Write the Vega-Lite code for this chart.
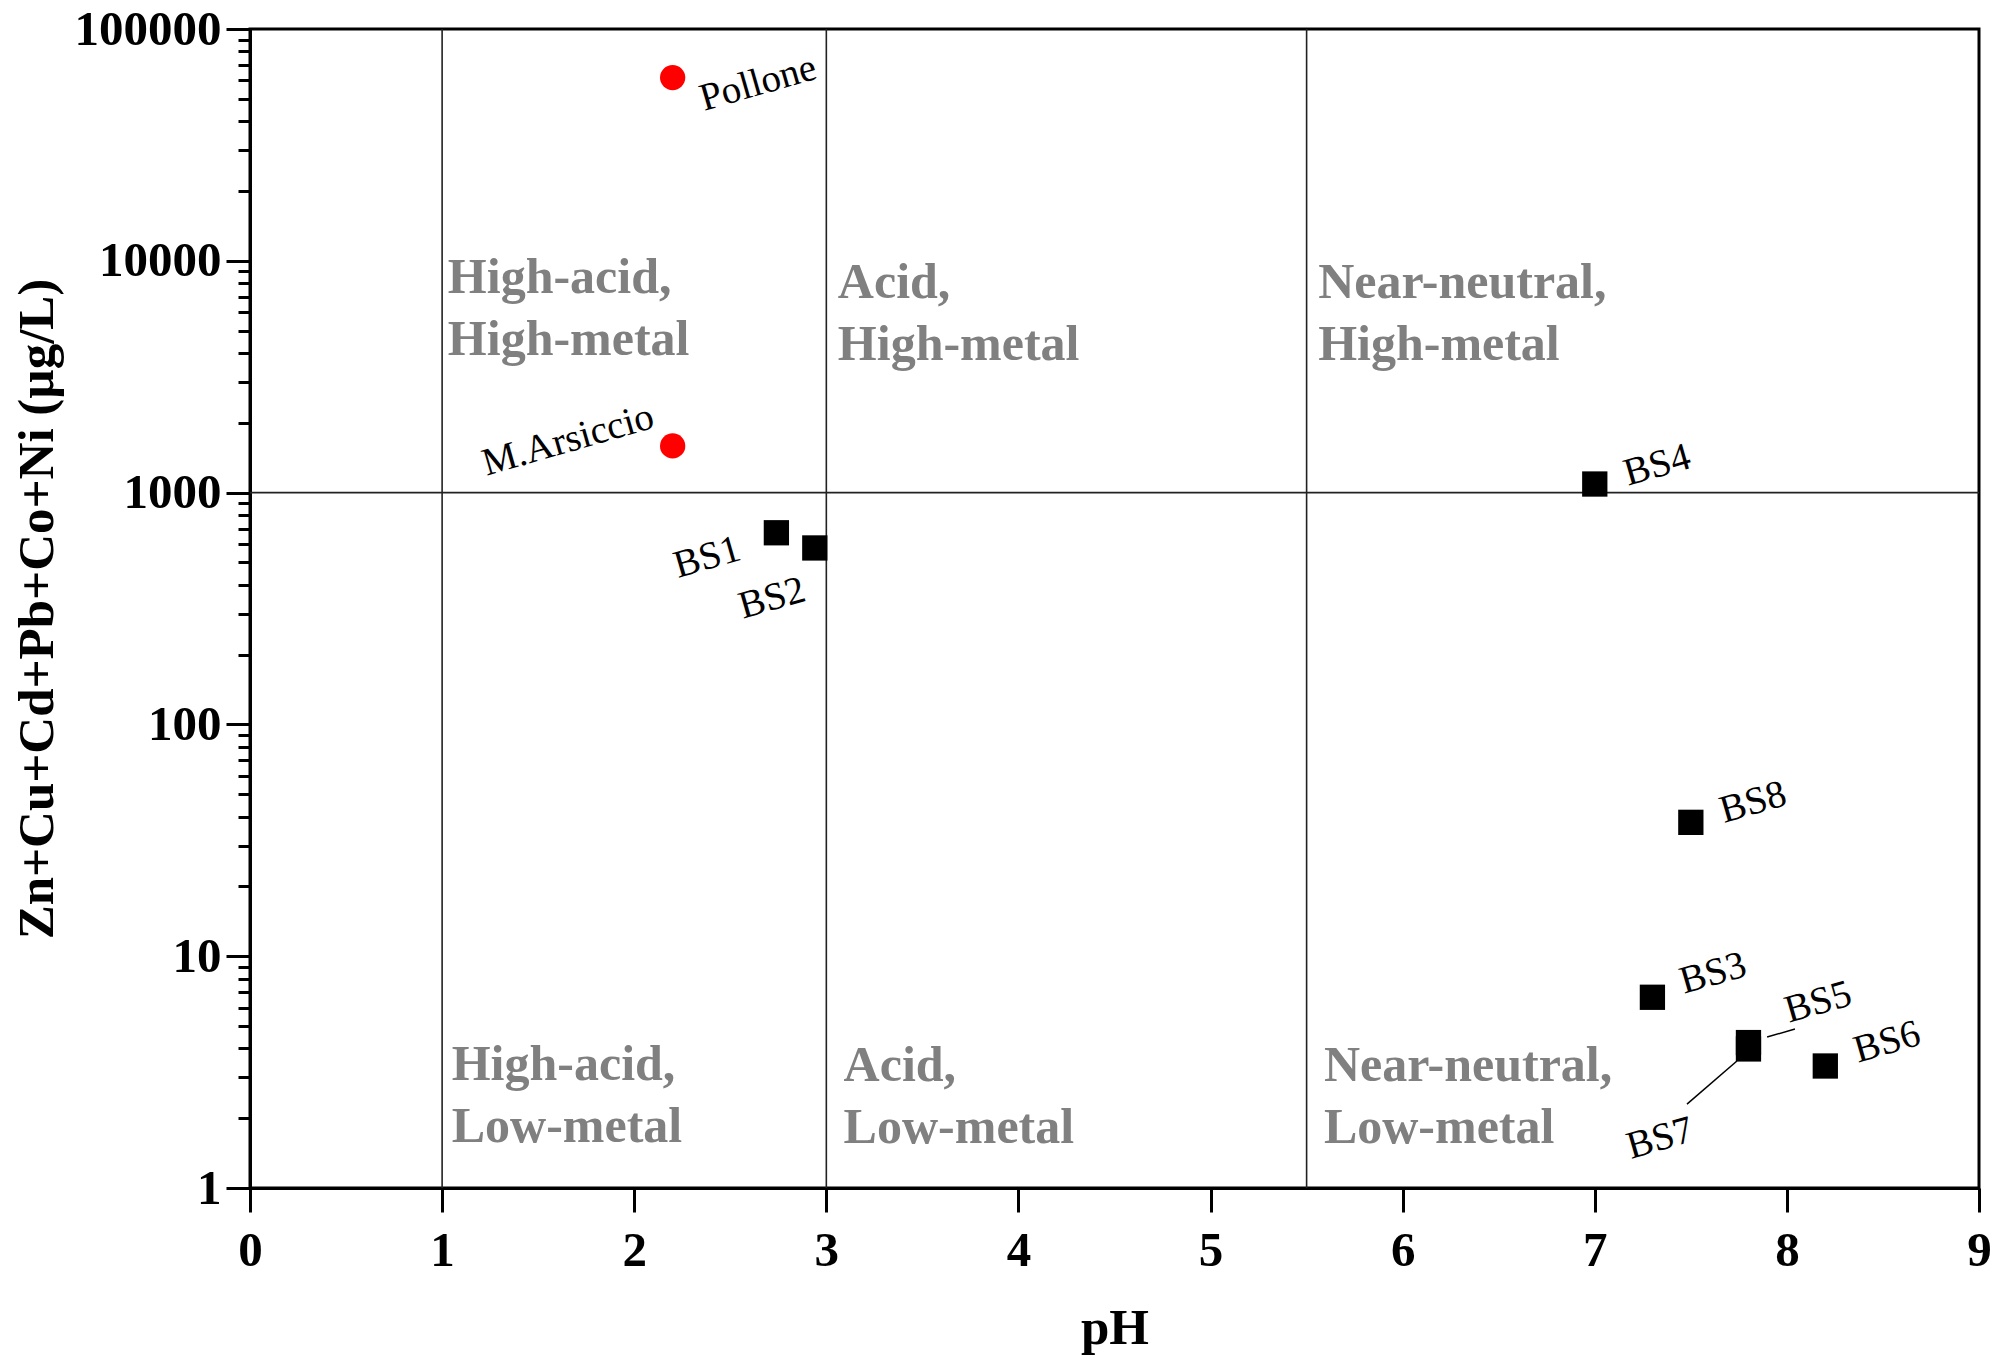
{
  "$schema": "https://vega.github.io/schema/vega-lite/v6.json",
  "width": 1729,
  "height": 1159,
  "autosize": {"type": "none"},
  "padding": {"left": 250, "top": 29, "right": 17, "bottom": 176},
  "background": "white",
  "config": {
    "font": "Liberation Serif",
    "view": {"stroke": "black", "strokeWidth": 3},
    "axis": {
      "grid": false,
      "domainColor": "black",
      "domainWidth": 3,
      "tickColor": "black",
      "tickWidth": 3,
      "labelFont": "Liberation Serif",
      "labelFontSize": 49,
      "labelFontWeight": "bold",
      "labelColor": "black",
      "titleFont": "Liberation Serif",
      "titleFontSize": 51,
      "titleFontWeight": "bold",
      "titleColor": "black",
      "labelOverlap": false,
      "labelFlush": false
    }
  },
  "layer": [
    {
      "data": {"values": [{"pH": 1}, {"pH": 3}, {"pH": 5.5}]},
      "mark": {"type": "rule", "color": "#222222", "strokeWidth": 1.6},
      "encoding": {"x": {"field": "pH", "type": "quantitative"}}
    },
    {
      "data": {"values": [{"metal": 1000}]},
      "mark": {"type": "rule", "color": "#222222", "strokeWidth": 1.6},
      "encoding": {"y": {"field": "metal", "type": "quantitative"}}
    },
    {
      "data": {"values": [
        {"name": "BS5", "pH": 7.897, "pH2": 8.042, "metal": 4.48, "metal2": 4.85},
        {"name": "BS7", "pH": 7.74, "pH2": 7.48, "metal": 3.53, "metal2": 2.3}
      ]},
      "mark": {"type": "rule", "color": "black", "strokeWidth": 1.5},
      "encoding": {
        "x": {"field": "pH", "type": "quantitative"},
        "x2": {"field": "pH2"},
        "y": {"field": "metal", "type": "quantitative"},
        "y2": {"field": "metal2"}
      }
    },
    {
      "data": {"values": [
        {"name": "Pollone", "pH": 2.2, "metal": 61700, "group": "mine"},
        {"name": "M.Arsiccio", "pH": 2.2, "metal": 1590, "group": "mine"},
        {"name": "BS1", "pH": 2.74, "metal": 671, "group": "stream"},
        {"name": "BS2", "pH": 2.94, "metal": 577, "group": "stream"},
        {"name": "BS3", "pH": 7.3, "metal": 6.65, "group": "stream"},
        {"name": "BS4", "pH": 7.0, "metal": 1089, "group": "stream"},
        {"name": "BS5", "pH": 7.8, "metal": 4.24, "group": "stream"},
        {"name": "BS6", "pH": 8.2, "metal": 3.36, "group": "stream"},
        {"name": "BS7", "pH": 7.8, "metal": 3.98, "group": "stream"},
        {"name": "BS8", "pH": 7.5, "metal": 37.8, "group": "stream"}
      ]},
      "mark": {"type": "point", "filled": true, "opacity": 1, "size": 640, "strokeWidth": 0},
      "encoding": {
        "x": {
          "field": "pH",
          "type": "quantitative",
          "scale": {"domain": [0, 9], "nice": false, "zero": false},
          "axis": {
            "title": "pH",
            "values": [0, 1, 2, 3, 4, 5, 6, 7, 8, 9],
            "format": "d",
            "tickSize": 24,
            "labelPadding": 14,
            "titlePadding": 28
          }
        },
        "y": {
          "field": "metal",
          "type": "quantitative",
          "scale": {"type": "log", "domain": [1, 100000], "nice": false},
          "axis": {
            "title": "Zn+Cu+Cd+Pb+Co+Ni (µg/L)",
            "values": [1, 2, 3, 4, 5, 6, 7, 8, 9, 10, 20, 30, 40, 50, 60, 70, 80, 90, 100, 200, 300, 400, 500, 600, 700, 800, 900, 1000, 2000, 3000, 4000, 5000, 6000, 7000, 8000, 9000, 10000, 20000, 30000, 40000, 50000, 60000, 70000, 80000, 90000, 100000],
            "labelExpr": "indexof([1,10,100,1000,10000,100000], datum.value) >= 0 ? format(datum.value, 'd') : ''",
            "tickSize": {"condition": {"test": "indexof([1,10,100,1000,10000,100000], datum.value) >= 0", "value": 24}, "value": 12},
            "labelPadding": 5,
            "titlePadding": 11
          }
        },
        "shape": {"field": "group", "type": "nominal", "scale": {"domain": ["mine", "stream"], "range": ["circle", "square"]}, "legend": null},
        "color": {"field": "group", "type": "nominal", "scale": {"domain": ["mine", "stream"], "range": ["#ff0000", "#000000"]}, "legend": null}
      }
    },
    {
      "data": {"values": [
        {"name": "Pollone", "pH": 2.644, "metal": 58480},
        {"name": "M.Arsiccio", "pH": 1.655, "metal": 1687},
        {"name": "BS1", "pH": 2.379, "metal": 527},
        {"name": "BS2", "pH": 2.717, "metal": 351},
        {"name": "BS4", "pH": 7.324, "metal": 1315},
        {"name": "BS8", "pH": 7.823, "metal": 46.2},
        {"name": "BS3", "pH": 7.615, "metal": 8.46},
        {"name": "BS5", "pH": 8.162, "metal": 6.34},
        {"name": "BS6", "pH": 8.521, "metal": 4.27},
        {"name": "BS7", "pH": 7.339, "metal": 1.64}
      ]},
      "mark": {"type": "text", "font": "Liberation Serif", "fontSize": 39, "angle": -16, "align": "center", "baseline": "middle", "color": "black"},
      "encoding": {
        "x": {"field": "pH", "type": "quantitative"},
        "y": {"field": "metal", "type": "quantitative"},
        "text": {"field": "name"}
      }
    },
    {
      "data": {"values": [
        {"label": "High-acid,\nHigh-metal", "pH": 1.03, "metal": 7260},
        {"label": "Acid,\nHigh-metal", "pH": 3.06, "metal": 6910},
        {"label": "Near-neutral,\nHigh-metal", "pH": 5.56, "metal": 6910},
        {"label": "High-acid,\nLow-metal", "pH": 1.05, "metal": 2.91},
        {"label": "Acid,\nLow-metal", "pH": 3.09, "metal": 2.9},
        {"label": "Near-neutral,\nLow-metal", "pH": 5.59, "metal": 2.9}
      ]},
      "mark": {"type": "text", "font": "Liberation Serif", "fontSize": 50, "fontWeight": "bold", "color": "#808080", "align": "left", "baseline": "alphabetic", "lineBreak": "\n", "lineHeight": 62},
      "encoding": {
        "x": {"field": "pH", "type": "quantitative"},
        "y": {"field": "metal", "type": "quantitative"},
        "text": {"field": "label"}
      }
    }
  ]
}
